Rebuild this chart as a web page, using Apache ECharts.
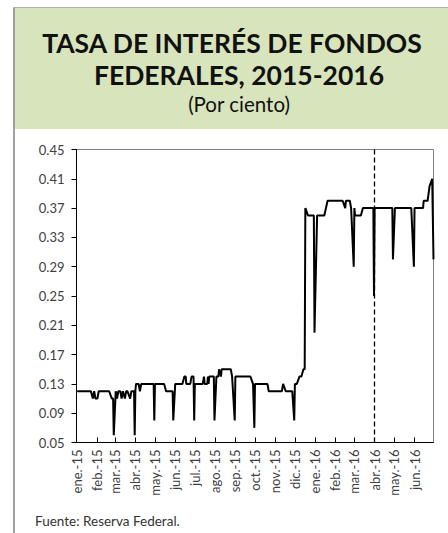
<!DOCTYPE html>
<html>
<head>
<meta charset="utf-8">
<script src="https://cdn.jsdelivr.net/npm/echarts@6/dist/echarts.min.js"></script>
<style>
html,body{margin:0;padding:0;background:#fff;}
#chart{width:448px;height:533px;}
</style>
</head>
<body>
<div id="chart"></div>
<script>
// ---- data ----
const dates = [
 '2015-01-02','2015-01-23','2015-01-26','2015-01-28','2015-01-30','2015-02-02','2015-02-04','2015-02-20','2015-02-24','2015-02-26',
 '2015-02-27','2015-03-02','2015-03-04','2015-03-06','2015-03-09','2015-03-11','2015-03-13','2015-03-16','2015-03-18','2015-03-20',
 '2015-03-24','2015-03-26','2015-03-30','2015-03-31','2015-04-01','2015-04-02','2015-04-06','2015-04-08','2015-04-10','2015-04-29',
 '2015-04-30','2015-05-01','2015-05-15','2015-05-18','2015-05-28','2015-05-29','2015-06-01','2015-06-12','2015-06-15','2015-06-17',
 '2015-06-18','2015-06-24','2015-06-26','2015-06-29','2015-06-30','2015-07-01','2015-07-13','2015-07-15','2015-07-16','2015-07-20',
 '2015-07-21','2015-07-22','2015-07-23','2015-07-30','2015-07-31','2015-08-03','2015-08-06','2015-08-07','2015-08-10','2015-08-11',
 '2015-08-25','2015-08-27','2015-08-31','2015-09-01','2015-09-24','2015-09-28','2015-09-29','2015-09-30','2015-10-01','2015-10-20',
 '2015-10-22','2015-11-11','2015-11-13','2015-11-17','2015-11-27','2015-11-30','2015-12-01','2015-12-04','2015-12-08','2015-12-11',
 '2015-12-14','2015-12-16','2015-12-17','2015-12-21','2015-12-30','2015-12-31','2016-01-04','2016-01-15','2016-01-20','2016-02-12',
 '2016-02-16','2016-02-17','2016-02-23','2016-02-25','2016-02-26','2016-02-29','2016-03-01','2016-03-02','2016-03-11','2016-03-14',
 '2016-03-30','2016-03-31','2016-04-01','2016-04-28','2016-04-29','2016-05-02','2016-05-27','2016-05-31','2016-06-01','2016-06-14',
 '2016-06-15','2016-06-21','2016-06-24','2016-06-28','2016-06-29','2016-06-30'
];
const rates = [
 0.12,0.12,0.11,0.12,0.11,0.11,0.12,0.12,0.11,0.11,
 0.06,0.12,0.11,0.12,0.12,0.11,0.12,0.11,0.12,0.12,
 0.11,0.12,0.12,0.06,0.12,0.13,0.13,0.12,0.13,0.13,
 0.08,0.13,0.13,0.12,0.12,0.08,0.13,0.13,0.14,0.14,
 0.13,0.13,0.14,0.14,0.08,0.13,0.13,0.14,0.13,0.13,
 0.14,0.13,0.14,0.14,0.08,0.14,0.14,0.15,0.14,0.15,
 0.15,0.14,0.08,0.14,0.14,0.13,0.13,0.07,0.13,0.13,
 0.12,0.12,0.13,0.12,0.12,0.08,0.13,0.13,0.14,0.14,
 0.15,0.15,0.37,0.36,0.36,0.20,0.36,0.36,0.38,0.38,
 0.37,0.38,0.38,0.37,0.37,0.29,0.37,0.36,0.36,0.37,
 0.37,0.25,0.37,0.37,0.30,0.37,0.37,0.29,0.37,0.37,
 0.38,0.38,0.40,0.41,0.41,0.30
];
const monthStarts = [
 '2015-01-01','2015-02-01','2015-03-01','2015-04-01','2015-05-01','2015-06-01','2015-07-01','2015-08-01','2015-09-01',
 '2015-10-01','2015-11-01','2015-12-01','2016-01-01','2016-02-01','2016-03-01','2016-04-01','2016-05-01','2016-06-01'
];
const monthLabels = [
 'ene.-15','feb.-15','mar.-15','abr.-15','may.-15','jun.-15','jul.-15','ago.-15','sep.-15',
 'oct.-15','nov.-15','dic.-15','ene.-16','feb.-16','mar.-16','abr.-16','may.-16','jun.-16'
];
const yTicks = [0.05,0.09,0.13,0.17,0.21,0.25,0.29,0.33,0.37,0.41,0.45];
const markerDate = '2016-04-01';
const axisStart = '2015-01-01';
const axisEnd = '2016-06-30';

const FONT = 'Lato, "Open Sans", sans-serif';
const ts = s => { const p = s.split('-').map(Number); return Date.UTC(p[0], p[1]-1, p[2]); };
const monthTs = monthStarts.map(ts);
const seriesData = dates.map((d, i) => [ts(d), rates[i]]);

const chart = echarts.init(document.getElementById('chart'), null, {renderer: 'svg'});
chart.setOption({
  backgroundColor: '#ffffff',
  animation: false,
  graphic: [
    {type: 'rect', shape: {x: 14, y: 8, width: 434, height: 121}, style: {fill: '#d8e4bc'}, z: 0},
    {type: 'line', shape: {x1: 13.5, y1: 7.5, x2: 448, y2: 7.5}, style: {stroke: '#b0b0b0', lineWidth: 1}},
    {type: 'line', shape: {x1: 14, y1: 7.5, x2: 14, y2: 533}, style: {stroke: '#a0a0a0', lineWidth: 2}},
    {type: 'text', x: 232, y: 43, style: {text: 'TASA DE INTERÉS DE FONDOS', fill: '#111', font: 'bold 26.5px ' + FONT, lineHeight: 26, textAlign: 'center', textVerticalAlign: 'middle'}},
    {type: 'text', x: 239, y: 75, style: {text: 'FEDERALES, 2015-2016', fill: '#111', font: 'bold 26.5px ' + FONT, lineHeight: 26, textAlign: 'center', textVerticalAlign: 'middle'}},
    {type: 'text', x: 239, y: 104, style: {text: '(Por ciento)', fill: '#111', font: '20.5px ' + FONT, lineHeight: 22, textAlign: 'center', textVerticalAlign: 'middle'}},
    {type: 'text', x: 35, y: 521, style: {text: 'Fuente: Reserva Federal.', fill: '#333', font: '13.5px ' + FONT, textAlign: 'left', textVerticalAlign: 'middle'}}
  ],
  grid: {left: 76.5, right: 14.5, top: 149.5, bottom: 90.5, show: true, borderColor: '#808080', borderWidth: 1, backgroundColor: 'transparent'},
  xAxis: {
    type: 'value',
    min: ts(axisStart),
    max: ts(axisEnd),
    axisLine: {show: true, onZero: false, lineStyle: {color: '#000', width: 1}},
    axisTick: {show: true, inside: true, length: 5, lineStyle: {color: '#000'}, customValues: monthTs},
    splitLine: {show: false},
    axisLabel: {
      customValues: monthTs,
      rotate: 90,
      margin: 7,
      color: '#404040',
      fontSize: 13,
      fontFamily: FONT,
      formatter: function (v) {
        const i = monthTs.indexOf(v);
        return i >= 0 ? monthLabels[i] : '';
      }
    }
  },
  yAxis: {
    type: 'value',
    min: 0.05,
    max: 0.45,
    interval: 0.04,
    axisLine: {show: true, lineStyle: {color: '#000', width: 1}},
    axisTick: {show: true, inside: false, length: 5, lineStyle: {color: '#000'}},
    splitLine: {show: false},
    axisLabel: {
      margin: 12,
      color: '#404040',
      fontSize: 13,
      fontFamily: FONT,
      formatter: function (v) {
        const k = yTicks.findIndex(t => Math.abs(t - v) < 1e-9);
        return k >= 0 ? yTicks[k].toFixed(2) : '';
      }
    }
  },
  series: [{
    type: 'line',
    data: seriesData,
    showSymbol: false,
    lineStyle: {color: '#000', width: 2},
    itemStyle: {color: '#000'},
    markLine: {
      silent: true,
      symbol: ['none', 'none'],
      label: {show: false},
      lineStyle: {color: '#000', type: [5, 3], width: 1.3},
      data: [{xAxis: ts(markerDate)}]
    }
  }]
});
</script>
</body>
</html>
